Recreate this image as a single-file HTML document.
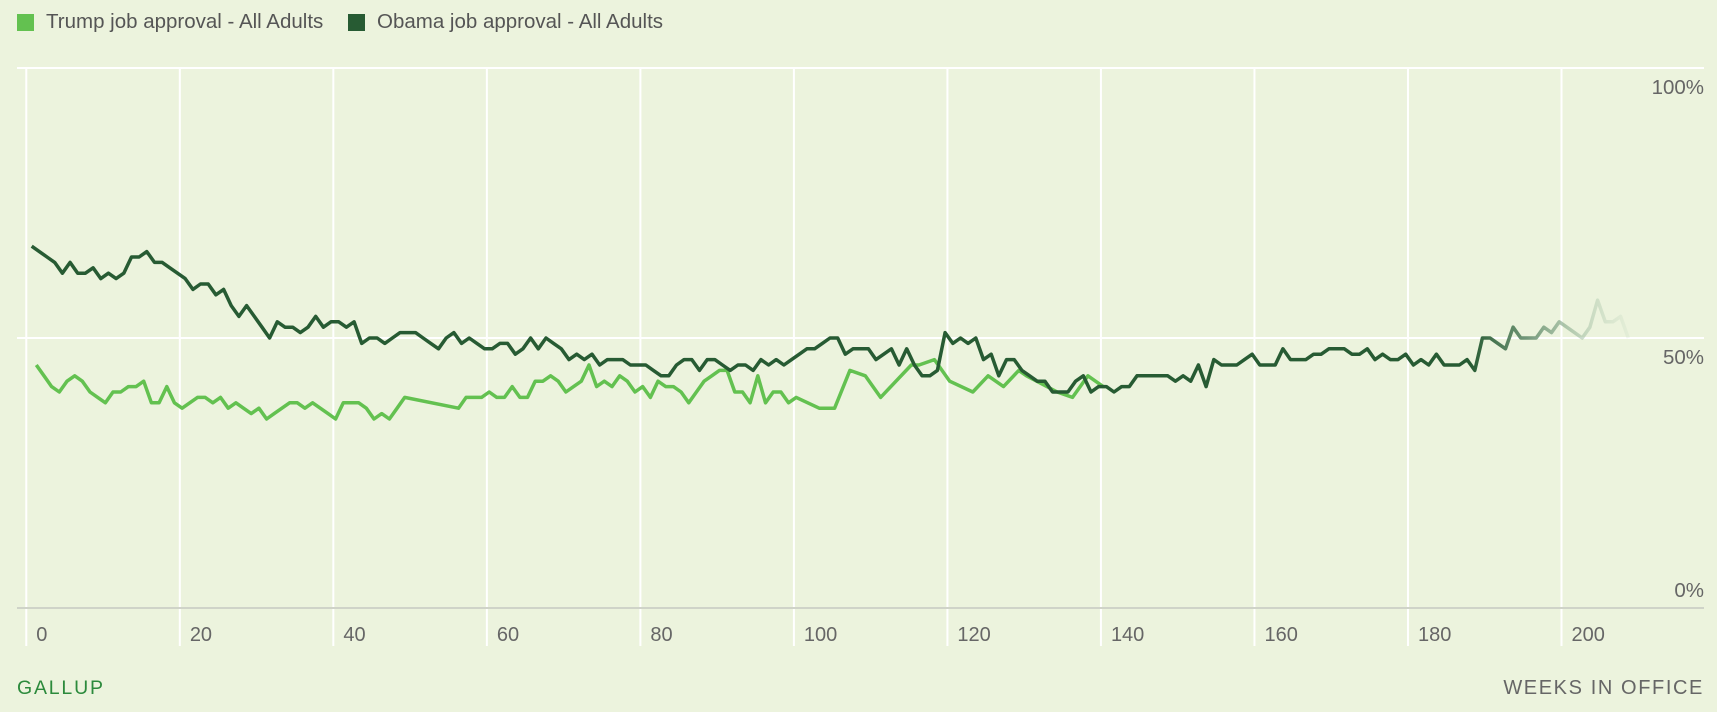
<!DOCTYPE html>
<html><head><meta charset="utf-8"><style>
html,body{margin:0;padding:0;background:#ecf3dd;}
body{width:1717px;height:712px;overflow:hidden;position:relative;font-family:"Liberation Sans",sans-serif;}
.leg{position:absolute;top:10px;font-size:20.5px;color:#555;display:flex;align-items:center;}
.sw{width:17px;height:17px;display:inline-block;margin-right:12px;}
</style></head><body>
<div class="leg" style="left:17px"><span class="sw" style="background:#63c150"></span>Trump job approval - All Adults</div>
<div class="leg" style="left:348px"><span class="sw" style="background:#275b33"></span>Obama job approval - All Adults</div>
<svg id="chart" width="1717" height="712" style="position:absolute;left:0;top:0">
<defs><linearGradient id="fade" gradientUnits="userSpaceOnUse" x1="1470" y1="0" x2="1632" y2="0">
<stop offset="0" stop-color="#275b33" stop-opacity="1"/><stop offset="0.35" stop-color="#4f7d5a" stop-opacity="0.8"/><stop offset="0.7" stop-color="#8fb193" stop-opacity="0.45"/><stop offset="1" stop-color="#c8dcc4" stop-opacity="0.2"/></linearGradient></defs>
<g id="grid"></g><g id="lines"></g><g id="labels"></g>
<text x="17" y="694" fill="#2c8a3c" font-size="19.5" letter-spacing="1.8">GALLUP</text>
<text x="1704" y="694" fill="#666" font-size="20" letter-spacing="1.6" text-anchor="end">WEEKS IN OFFICE</text>
</svg>
<script>
const xTicks=[0,20,40,60,80,100,120,140,160,180,200];
const yTicks=[0,50,100];
const yTickLabels=["0%","50%","100%"];
const obamaValues=[67,66,65,64,62,64,62,62,63,61,62,61,62,65,65,66,64,64,63,62,61,59,60,60,58,59,56,54,56,54,52,50,53,52,52,51,52,54,52,53,53,52,53,49,50,50,49,50,51,51,51,50,49,48,50,51,49,50,49,48,48,49,49,47,48,50,48,50,49,48,46,47,46,47,45,46,46,46,45,45,45,44,43,43,45,46,46,44,46,46,45,44,45,45,44,46,45,46,45,46,47,48,48,49,50,50,47,48,48,48,46,47,48,45,48,45,43,43,44,51,49,50,49,50,46,47,43,46,46,44,43,42,42,40,40,40,42,43,40,41,41,40,41,41,43,43,43,43,43,42,43,42,45,41,46,45,45,45,46,47,45,45,45,48,46,46,46,47,47,48,48,48,47,47,48,46,47,46,46,47,45,46,45,47,45,45,45,46,44,50,50,49,48,52,50,50,50,52,51,53,52,51,50,52,57,53,53,54,50];
const trumpWeeks=[1,2,3,4,5,6,7,8,9,10,11,12,13,14,15,16,17,18,19,20,21,22,23,24,25,26,27,28,29,30,31,32,33,34,35,36,37,38,39,40,41,42,43,44,45,46,47,48,49,56,57,58,59,60,61,62,63,64,65,66,67,68,69,70,71,72,73,74,75,76,77,78,79,80,81,82,83,84,85,86,87,88,89,90,91,92,93,94,95,96,97,98,99,100,103,105,107,109,111,115,116,118,120,123,125,127,129,130,134,136,138,140];
const trumpValues=[45,43,41,40,42,43,42,40,39,38,40,40,41,41,42,38,38,41,38,37,38,39,39,38,39,37,38,37,36,37,35,36,37,38,38,37,38,37,36,35,38,38,38,37,35,36,35,37,39,37,39,39,39,40,39,39,41,39,39,42,42,43,42,40,41,42,45,41,42,41,43,42,40,41,39,42,41,41,40,38,40,42,43,44,44,40,40,38,43,38,40,40,38,39,37,37,44,43,39,45,45,46,42,40,43,41,44,43,40,39,43,41];
const NS="http://www.w3.org/2000/svg";
const X=w=>26.3+7.676*w;
const Y=p=>608-5.4*p;
const grid=document.getElementById('grid'),lines=document.getElementById('lines'),labels=document.getElementById('labels');
function mk(tag,attrs,parent){const e=document.createElementNS(NS,tag);for(const k in attrs)e.setAttribute(k,attrs[k]);parent.appendChild(e);return e;}
xTicks.forEach(t=>{
  const l=mk('line',{x1:X(t),x2:X(t),y1:68,y2:646,stroke:'#fff','stroke-width':2},grid);
  
  
  const tx=mk('text',{x:X(t)+10,y:641,fill:'#666','font-size':20},labels);
  tx.textContent=t;
  
  
});
yTicks.forEach((t,i)=>{
  const l=mk('line',{x1:17,x2:1704,y1:Y(t),y2:Y(t),stroke:t===0?'#cfd3c8':'#fff','stroke-width':2},grid);
  
  
  const tx=mk('text',{x:1704,y:t===0?Y(t)-11:Y(t)+26,fill:'#666','font-size':20.5,'text-anchor':'end'},labels);
  tx.textContent=yTickLabels[i];
  
  
});
const tp=trumpWeeks.map((w,i)=>X(w+0.3).toFixed(1)+','+Y(trumpValues[i]).toFixed(1)).join(' ');
const tl=mk('polyline',{points:tp,fill:'none',stroke:'#63c150','stroke-width':3.5,'stroke-linejoin':'round'},lines);


const op=obamaValues.map((v,i)=>X(i+1-0.3).toFixed(1)+','+Y(v).toFixed(1)).join(' ');
const ol=mk('polyline',{points:op,fill:'none',stroke:'url(#fade)','stroke-width':3.5,'stroke-linejoin':'round'},lines);


</script>
</body></html>
